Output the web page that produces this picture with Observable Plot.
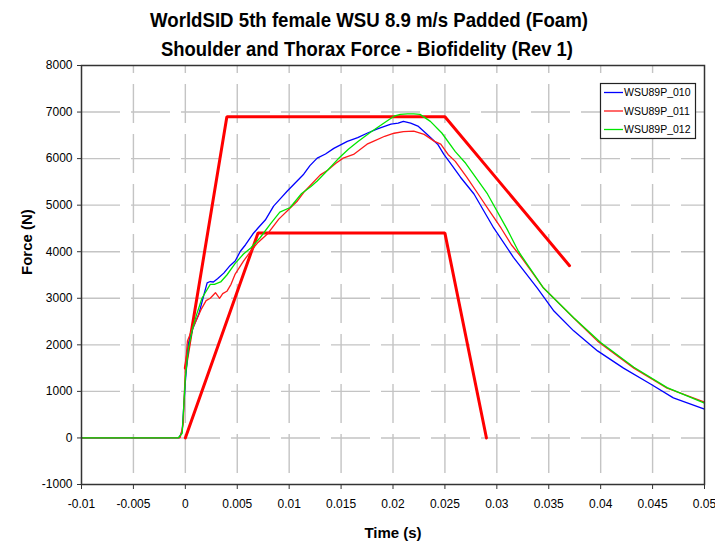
<!DOCTYPE html>
<html>
<head>
<meta charset="utf-8">
<script src="https://cdn.jsdelivr.net/npm/d3@7"></script>
<script src="https://cdn.jsdelivr.net/npm/@observablehq/plot@0.6"></script>
<style>
  html, body { margin: 0; padding: 0; background: #fff; }
  #wrap { position: relative; width: 715px; height: 543px; font-family: "Liberation Sans", Arial, sans-serif; }
  #title { display: block; }
  #chart svg { display: block; }
  #legend { position: absolute; left: 0; top: 0; }
</style>
</head>
<body>
<div id="wrap">
  <svg id="title" width="715" height="60"></svg>
  <div id="chart"></div>
  <svg id="legend" width="715" height="543" style="pointer-events:none"></svg>
</div>
<script>
// ---- Titles ----
const titleLines = [
  "WorldSID 5th female WSU 8.9 m/s Padded (Foam)",
  "Shoulder and Thorax Force - Biofidelity (Rev 1)"
];
const xLabel = "Time (s)";
const yLabel = "Force (N)";

// ---- Ticks ----
const xTicks = [-0.01, -0.005, 0, 0.005, 0.01, 0.015, 0.02, 0.025, 0.03, 0.035, 0.04, 0.045, 0.05];
const xTickLabels = ["-0.01", "-0.005", "0", "0.005", "0.01", "0.015", "0.02", "0.025", "0.03", "0.035", "0.04", "0.045", "0.05"];
const yTicks = [-1000, 0, 1000, 2000, 3000, 4000, 5000, 6000, 7000, 8000];
const yTickLabels = ["-1000", "0", "1000", "2000", "3000", "4000", "5000", "6000", "7000", "8000"];

// ---- Corridors ----
const upperTime = [0, 0.004, 0.025, 0.037];
const upperForce = [1500, 6900, 6900, 3700];
const lowerTime = [0, 0.007, 0.025, 0.029];
const lowerForce = [0, 4400, 4400, 0];

// ---- Series ----
const seriesNames = ["WSU89P_010", "WSU89P_011", "WSU89P_012"];
const seriesColors = ["#0000ff", "#ff1a1a", "#00e600"];

const time010 = [-0.01, -0.0006, -0.0003, 0, 0.0003, 0.0007, 0.001, 0.0013, 0.0017, 0.0021, 0.0024, 0.0027, 0.0031, 0.0037, 0.0043, 0.0048, 0.0053, 0.0058, 0.0065, 0.007, 0.0077, 0.0085, 0.0092, 0.0098, 0.0106, 0.0114, 0.012, 0.0127, 0.0135, 0.0143, 0.015, 0.0156, 0.0166, 0.0175, 0.0185, 0.0198, 0.0205, 0.021, 0.0217, 0.0224, 0.0233, 0.0243, 0.0249, 0.0254, 0.0265, 0.0278, 0.0291, 0.0297, 0.0316, 0.0339, 0.0355, 0.0374, 0.0397, 0.0422, 0.0448, 0.047, 0.05];
const force010 = [0, 0, 150, 1200, 2000, 2340, 2500, 2660, 3000, 3330, 3360, 3350, 3420, 3540, 3700, 3800, 4010, 4150, 4380, 4510, 4680, 4980, 5150, 5300, 5480, 5665, 5850, 6010, 6100, 6220, 6300, 6370, 6450, 6545, 6640, 6740, 6760, 6800, 6760, 6700, 6520, 6310, 6090, 5940, 5600, 5240, 4740, 4510, 3880, 3220, 2725, 2300, 1870, 1500, 1160, 860, 620];

const time011 = [-0.01, -0.0005, -0.0002, 0, 0.0002, 0.0006, 0.001, 0.0015, 0.002, 0.0024, 0.0029, 0.0033, 0.0036, 0.004, 0.0044, 0.0048, 0.0056, 0.0063, 0.007, 0.0079, 0.009, 0.0101, 0.0108, 0.0115, 0.013, 0.0137, 0.0145, 0.0152, 0.0162, 0.0175, 0.0181, 0.0192, 0.0201, 0.021, 0.022, 0.023, 0.024, 0.0246, 0.0253, 0.026, 0.0271, 0.0282, 0.0293, 0.0304, 0.0314, 0.0324, 0.0345, 0.0374, 0.0397, 0.0432, 0.0464, 0.05];
const force011 = [0, 0, 300, 1500, 2080, 2300, 2500, 2750, 2950, 3000, 3120, 3000, 3100, 3150, 3300, 3520, 3800, 4010, 4200, 4380, 4700, 4940, 5090, 5300, 5650, 5750, 5900, 6010, 6090, 6310, 6370, 6480, 6545, 6580, 6590, 6520, 6370, 6310, 6090, 5940, 5600, 5240, 4870, 4510, 4150, 3870, 3220, 2575, 2080, 1500, 1070, 770];

const time012 = [-0.01, -0.0007, -0.0003, 0, 0.0003, 0.0007, 0.0011, 0.0016, 0.0024, 0.0028, 0.0034, 0.004, 0.0048, 0.0056, 0.0063, 0.0072, 0.0082, 0.0091, 0.0101, 0.0112, 0.0121, 0.0127, 0.0137, 0.0147, 0.0157, 0.0166, 0.0178, 0.0191, 0.0201, 0.0207, 0.0214, 0.022, 0.0226, 0.0236, 0.0247, 0.026, 0.027, 0.0291, 0.031, 0.0321, 0.0345, 0.0374, 0.04, 0.0432, 0.0464, 0.05];
const force012 = [0, 0, 100, 1290, 1930, 2350, 2660, 3000, 3300, 3300, 3350, 3500, 3750, 3950, 4080, 4300, 4600, 4850, 4950, 5250, 5400, 5520, 5750, 5990, 6200, 6360, 6560, 6760, 6910, 6950, 6960, 6960, 6950, 6800, 6550, 6150, 5900, 5240, 4480, 4000, 3220, 2580, 2050, 1520, 1080, 750];

// ---- Build tables ----
const zip = (ts, fs) => ts.map((t, i) => ({t, f: fs[i]}));
const upper = zip(upperTime, upperForce);
const lower = zip(lowerTime, lowerForce);
const seriesData = [zip(time010, force010), zip(time011, force011), zip(time012, force012)];

const fontFam = '"Liberation Sans", Arial, sans-serif';
const gridColor = "#c4c4c4";

const marks = [
  // dashed grid
  Plot.ruleY(yTicks.filter(v => v > -1000 && v < 8000), {x1: xTicks[0], x2: xTicks[xTicks.length - 1], stroke: gridColor, strokeWidth: 1.4, strokeDasharray: "39,11"}),
  Plot.ruleX(xTicks.filter(v => v > -0.01 && v < 0.05), {y1: yTicks[0], y2: yTicks[yTicks.length - 1], stroke: gridColor, strokeWidth: 1.4, strokeDasharray: "39,11", strokeDashoffset: 39}),
  // corridors
  Plot.line(upper, {x: "t", y: "f", stroke: "#ff0000", strokeWidth: 3, strokeLinejoin: "miter"}),
  Plot.line(lower, {x: "t", y: "f", stroke: "#ff0000", strokeWidth: 3, strokeLinejoin: "miter"}),
  // series
  ...seriesData.map((d, i) => Plot.line(d, {x: "t", y: "f", stroke: seriesColors[i], strokeWidth: 1.3})),
  Plot.frame({stroke: "#333", strokeWidth: 1.5}),
  Plot.axisX({ticks: xTicks, tickFormat: (d) => xTickLabels[xTicks.indexOf(d)], tickSize: 5, tickPadding: 10, fontSize: 12, label: null, stroke: "#333"}),
  Plot.axisY({ticks: yTicks, tickFormat: (d) => yTickLabels[yTicks.indexOf(d)], tickSize: 4, tickPadding: 5, fontSize: 12, label: null, stroke: "#333"}),
  Plot.text([xLabel], {frameAnchor: "bottom", dy: 49, text: d => d, fontSize: 15, fontWeight: "bold", lineAnchor: "middle"}),
  Plot.text([yLabel], {frameAnchor: "left", dx: -54, rotate: -90, text: d => d, fontSize: 15, fontWeight: "bold", lineAnchor: "middle"})
];

const chart = Plot.plot({
  width: 715,
  height: 483,
  marginTop: 5,
  marginLeft: 81,
  marginRight: 11,
  marginBottom: 59,
  style: {fontFamily: fontFam, color: "#000", background: "#fff", overflow: "visible"},
  x: {domain: [xTicks[0], xTicks[xTicks.length - 1]]},
  y: {domain: [yTicks[0], yTicks[yTicks.length - 1]]},
  marks
});
document.getElementById("chart").appendChild(chart);

// ---- Title ----
const tsvg = d3.select("#title");
const titleSpec = [{x: 369, y: 27, len: 438}, {x: 367, y: 56, len: 412}];
titleLines.forEach((s, i) => {
  tsvg.append("text")
    .attr("x", titleSpec[i].x).attr("y", titleSpec[i].y)
    .attr("text-anchor", "middle")
    .attr("font-family", fontFam).attr("font-weight", "bold").attr("font-size", 21)
    .attr("textLength", titleSpec[i].len).attr("lengthAdjust", "spacingAndGlyphs")
    .text(s);
});

// ---- Legend ----
const lg = d3.select("#legend");
lg.append("rect").attr("x", 600.5).attr("y", 83.5).attr("width", 95).attr("height", 55)
  .attr("fill", "#fff").attr("stroke", "#222").attr("stroke-width", 1.2);
seriesNames.forEach((n, i) => {
  const y = 92.5 + i * 18.5;
  lg.append("line").attr("x1", 604).attr("x2", 623).attr("y1", y).attr("y2", y)
    .attr("stroke", seriesColors[i]).attr("stroke-width", 1.3);
  lg.append("text").attr("x", 624).attr("y", y).attr("dy", "0.35em")
    .attr("font-family", fontFam).attr("font-size", 10.5).attr("fill", "#000").text(n);
});
</script>
</body>
</html>
